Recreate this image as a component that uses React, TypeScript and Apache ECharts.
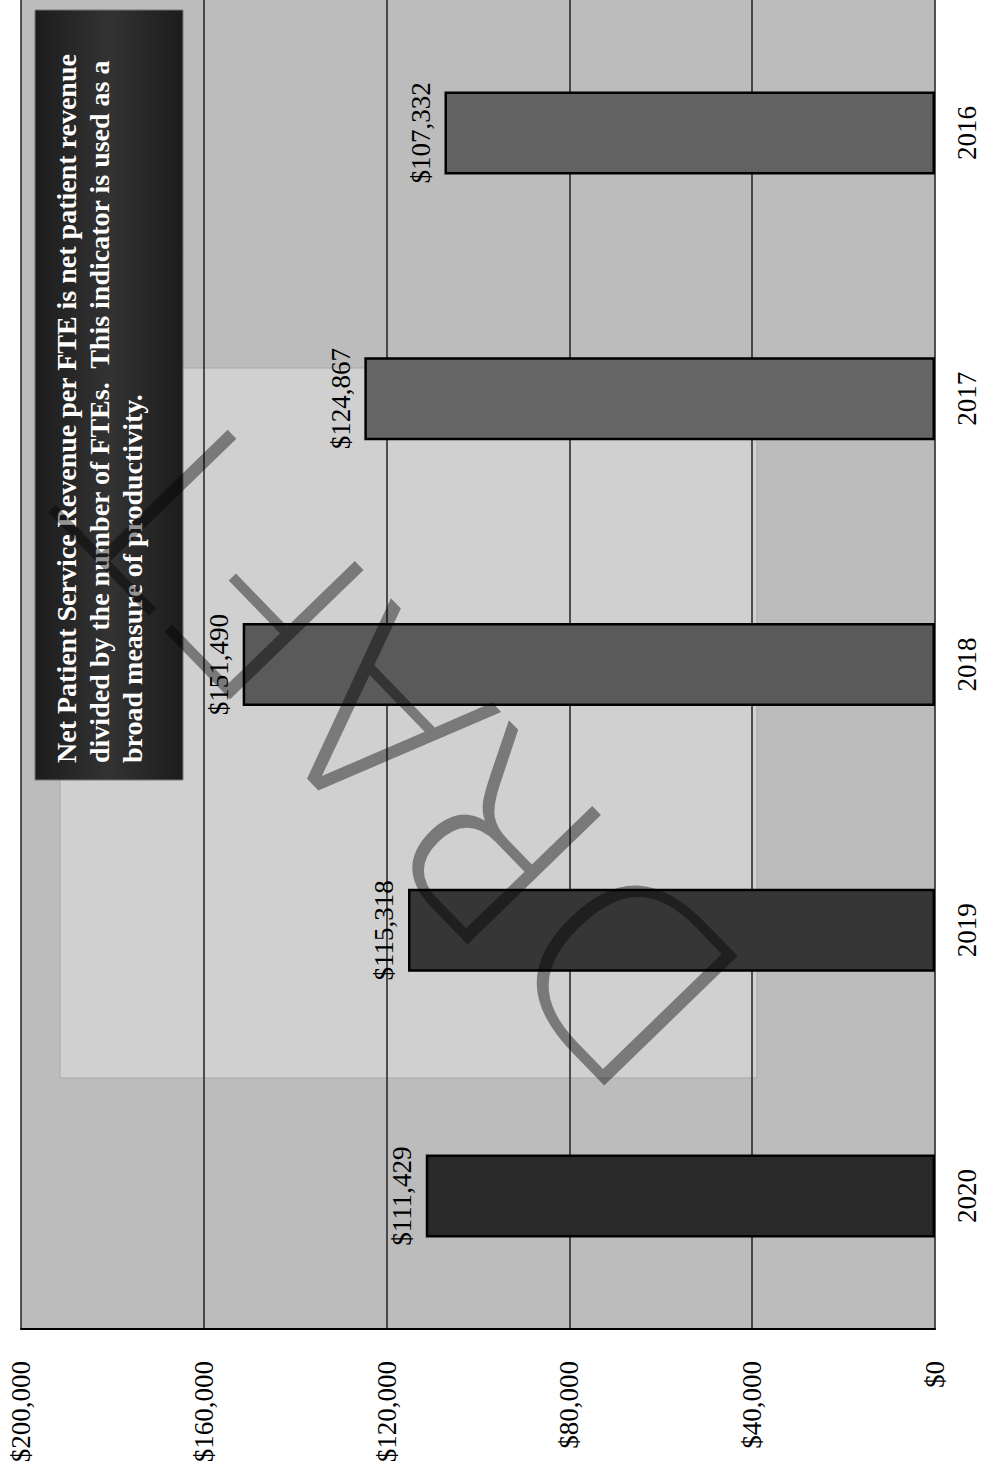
import React, { useEffect, useRef } from "react";
import * as echarts from "echarts";

const categories = ["2020", "2019", "2018", "2017", "2016"];
const values = [111429, 115318, 151490, 124867, 107332];
const barColors = ["#2a2a2a", "#363636", "#5a5a5a", "#666666", "#626262"];
const axisMin = 0;
const axisMax = 200000;
const axisStep = 40000;
const noteLines = [
  "Net Patient Service Revenue per FTE is net patient revenue",
  "divided by the number of FTEs.  This indicator is used as a",
  "broad measure of productivity.",
];
const watermark = "DRAFT";

const money = (v: number) => "$" + Math.round(v).toLocaleString("en-US");

export default function App() {
  const ref = useRef<HTMLDivElement>(null);
  useEffect(() => {
    if (!ref.current) return;
    const chart = echarts.init(ref.current, undefined, { renderer: "svg" });
    const serif = '"Liberation Serif", "Times New Roman", serif';
    chart.setOption({
      animation: false,
      backgroundColor: "#ffffff",
      grid: { left: 21, top: 0, width: 914, height: 1329, containLabel: false },
      xAxis: {
        type: "value",
        min: axisMin,
        max: axisMax,
        interval: axisStep,
        inverse: true,
        position: "bottom",
        axisLine: { show: true, lineStyle: { color: "#000", width: 2 } },
        axisTick: { show: false },
        splitLine: { show: true, lineStyle: { color: "#222", width: 1.5 } },
        axisLabel: {
          rotate: 90,
          margin: 32,
          color: "#000",
          fontFamily: serif,
          fontSize: 27,
          formatter: (v: number) => money(v),
        },
      },
      yAxis: {
        type: "category",
        data: categories,
        position: "right",
        axisLine: { show: true, lineStyle: { color: "#555", width: 1 } },
        axisTick: { show: false },
        splitLine: { show: false },
        axisLabel: {
          rotate: 90,
          margin: 18,
          align: "center",
          verticalAlign: "top",
          color: "#000",
          fontFamily: serif,
          fontSize: 27,
        },
      },
      series: [
        {
          type: "bar",
          barWidth: 83,
          z: 3,
          data: values.map((v, i) => ({
            value: v,
            itemStyle: { color: barColors[i] },
          })),
          itemStyle: { borderColor: "#000", borderWidth: 2.5 },
          label: {
            show: true,
            position: "left",
            distance: 10,
            rotate: 90,
            align: "center",
            verticalAlign: "bottom",
            color: "#000",
            fontFamily: serif,
            fontSize: 27,
            formatter: (p: any) => money(p.value),
          },
        },
      ],
      graphic: [
        {
          type: "rect",
          z: -10,
          shape: { x: 21, y: 0, width: 914, height: 1329 },
          style: { fill: "#bcbcbc" },
        },
        {
          type: "rect",
          z: -9,
          shape: { x: 60, y: 368, width: 697, height: 710 },
          style: { fill: "#d0d0d0", stroke: "#a8a8a8", lineWidth: 1 },
        },
        {
          type: "rect",
          z: 20,
          shape: { x: 35, y: 10, width: 148, height: 770 },
          style: {
            fill: new echarts.graphic.LinearGradient(0, 0, 1, 0, [
              { offset: 0, color: "#1c1c1c" },
              { offset: 0.5, color: "#333333" },
              { offset: 1, color: "#1c1c1c" },
            ]),
            stroke: "#777",
            lineWidth: 1,
          },
        },
        {
          type: "text",
          z: 21,
          x: 50,
          y: 763,
          rotation: Math.PI / 2,
          style: {
            text: noteLines.join("\n"),
            fill: "#ffffff",
            font: 'bold 28px "Liberation Serif", serif',
            lineHeight: 33,
            textAlign: "left",
            textVerticalAlign: "top",
          },
        },
        {
          type: "text",
          z: 30,
          x: 405,
          y: 740,
          rotation: 2.34,
          style: {
            text: watermark,
            fill: "rgba(0,0,0,0.42)",
            font: '200 255px "DejaVu Sans", sans-serif',
            textAlign: "center",
            textVerticalAlign: "middle",
          },
        },
      ],
    });
    return () => chart.dispose();
  }, []);
  return (
    <div
      ref={ref}
      style={{ position: "absolute", left: 0, top: 0, width: 989, height: 1476 }}
    />
  );
}
